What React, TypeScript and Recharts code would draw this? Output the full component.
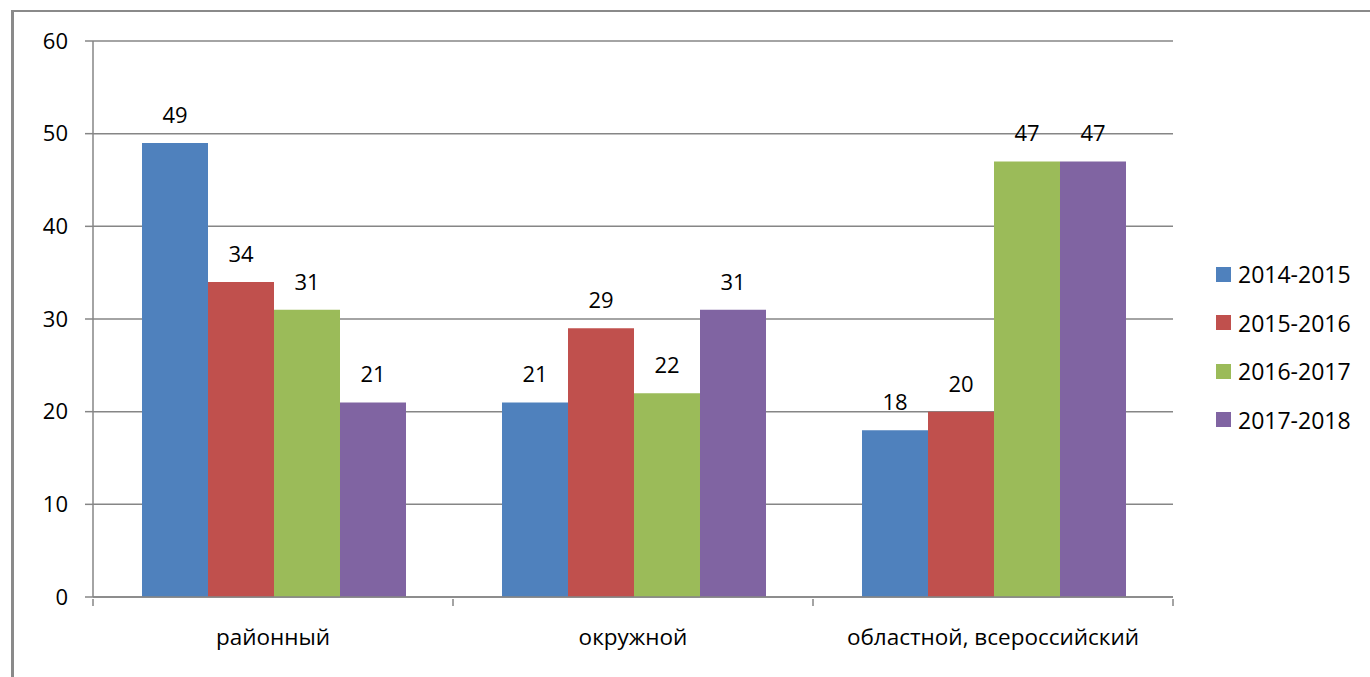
import { BarChart, Bar, XAxis, YAxis, CartesianGrid, Legend, LabelList } from "recharts";

const categories = ["районный", "окружной", "областной, всероссийский"];
const seriesNames = ["2014-2015", "2015-2016", "2016-2017", "2017-2018"];
const values2014 = [49, 21, 18];
const values2015 = [34, 29, 20];
const values2016 = [31, 22, 47];
const values2017 = [21, 31, 47];
const yTicks = [0, 10, 20, 30, 40, 50, 60];

const colors = ["#4F81BD", "#C0504D", "#9BBB59", "#8064A2"];
const FONT = "'Open Sans', sans-serif";
const AXIS = "#868686";

const data = categories.map((name, i) => ({
  name,
  s0: values2014[i],
  s1: values2015[i],
  s2: values2016[i],
  s3: values2017[i],
}));

const BAND = 360;

function CategoryTick(props: any) {
  const { x, y, payload, index } = props;
  return (
    <g>
      <line x1={x - BAND / 2} y1={y - 6} x2={x - BAND / 2} y2={y + 1} stroke={AXIS} strokeWidth={1.5} />
      {index === categories.length - 1 && (
        <line x1={x + BAND / 2} y1={y - 6} x2={x + BAND / 2} y2={y + 1} stroke={AXIS} strokeWidth={1.5} />
      )}
      <text x={x} y={y + 40} textAnchor="middle" fontFamily={FONT} fontSize={22.5} fill="#000">
        {payload.value}
      </text>
    </g>
  );
}

function LegendBox(props: any) {
  const items = props.payload || [];
  return (
    <div style={{ fontFamily: FONT, fontSize: 23, color: "#000" }}>
      {items.map((it: any) => (
        <div key={it.value} style={{ display: "flex", alignItems: "center", height: 48.5 }}>
          <span style={{ width: 15, height: 15, background: it.color, marginRight: 7, display: "inline-block" }} />
          <span>{it.value}</span>
        </div>
      ))}
    </div>
  );
}

export default function App() {
  return (
    <div style={{ position: "absolute", left: 0, top: 0, width: 1370, height: 677, background: "#fff", overflow: "hidden" }}>
      <div
        style={{
          position: "absolute",
          left: 11,
          top: 10,
          width: 1400,
          height: 700,
          borderLeft: "3px solid #8a8a8a",
          borderTop: "2px solid #8a8a8a",
        }}
      />
      <div style={{ position: "absolute", left: 0, top: 0 }}>
        <BarChart
          width={1370}
          height={677}
          data={data}
          margin={{ top: 41, right: 197, bottom: 20, left: 33 }}
          barCategoryGap={49}
          barGap={0}
        >
          <CartesianGrid vertical={false} stroke={AXIS} strokeWidth={1.5} />
          <XAxis
            dataKey="name"
            height={60}
            axisLine={{ stroke: AXIS, strokeWidth: 1.5 }}
            tickLine={false}
            interval={0}
            tick={<CategoryTick />}
          />
          <YAxis
            width={60}
            domain={[0, 60]}
            ticks={yTicks}
            axisLine={{ stroke: AXIS, strokeWidth: 1.5 }}
            tickLine={{ stroke: AXIS, strokeWidth: 1.5 }}
            tickSize={8}
            tickMargin={17}
            tick={{ fontFamily: FONT, fontSize: 22, fill: "#000" }}
          />
          <Legend
            layout="horizontal"
            align="center"
            verticalAlign="middle"
            content={<LegendBox />}
            wrapperStyle={{ left: 1216, top: 250, width: 154 }}
          />
          {["s0", "s1", "s2", "s3"].map((k, i) => (
            <Bar key={k} dataKey={k} name={seriesNames[i]} fill={colors[i]} isAnimationActive={false}>
              <LabelList dataKey={k} position="top" offset={20} fontFamily={FONT} fontSize={22} fill="#000" />
            </Bar>
          ))}
        </BarChart>
      </div>
    </div>
  );
}
